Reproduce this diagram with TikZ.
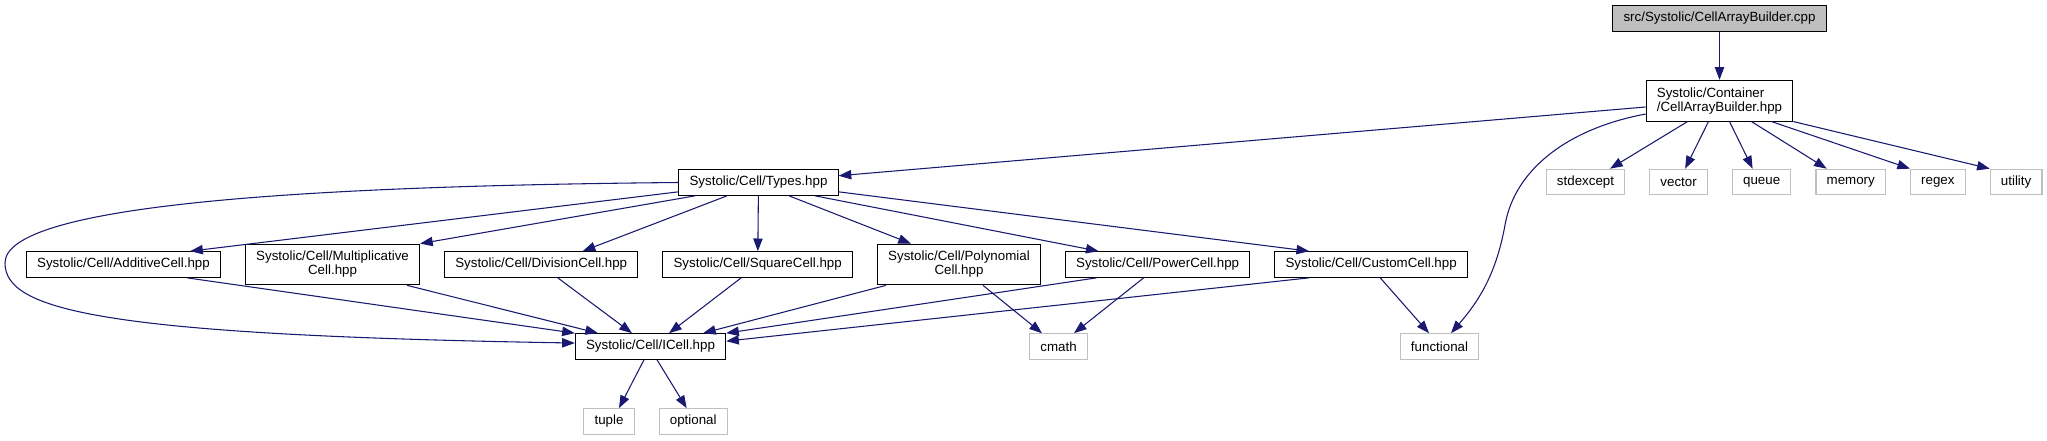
\documentclass[tikz,border=0pt]{standalone}
\usepackage{fontspec}
\setmainfont{Liberation Sans}
\usepackage{tikz}
\usetikzlibrary{arrows.meta,positioning}
\definecolor{edgeBlue}{HTML}{191970}
\definecolor{rootGray}{HTML}{BFBFBF}
\definecolor{sysGray}{HTML}{BFBFBF}

\begin{document}
\begin{tikzpicture}[
  x=0.75pt, y=-0.75pt,
  node distance=18pt,
  every node/.style={font=\fontsize{10}{10.5}\selectfont, align=center},
  file/.style={draw=black,fill=white,line width=0.8pt,inner xsep=8pt,inner ysep=0pt,minimum height=19.2pt},
  twoline/.style={file,minimum height=30.5pt},
  rootfile/.style={file,fill=rootGray},
  sysfile/.style={file,draw=sysGray},
  arrow/.style={-{Triangle[length=9.5pt,width=7pt]},line width=0.8pt,color=edgeBlue}
]
\useasboundingbox (0,0) rectangle (2047,440);

% Fila superior: fichero raiz y su cabecera
\node[rootfile] (cpp) at (1719.5,18.5) {src/Systolic/CellArrayBuilder.cpp};
\node[twoline,align=left,below=36pt of cpp] (builder) {Systolic/Container\\/CellArrayBuilder.hpp};

% Cabeceras de sistema de CellArrayBuilder
\node[sysfile] (stdexcept) at (1585.5,182) {stdexcept};
\node[sysfile,right=of stdexcept] (vector) {vector};
\node[sysfile,right=of vector] (queue) {queue};
\node[sysfile,right=of queue] (memory) {memory};
\node[sysfile,right=of memory] (regex) {regex};
\node[sysfile,right=of regex] (utility) {utility};

\node[file] (types) at (758.5,182.5) {Systolic/Cell/Types.hpp};

% Fila central: tipos de celda
\node[file] (additive) at (123.5,264.5) {Systolic/Cell/AdditiveCell.hpp};
\node[twoline,right=of additive] (multiplicative) {Systolic/Cell/Multiplicative\\Cell.hpp};
\node[file,right=of multiplicative] (division) {Systolic/Cell/DivisionCell.hpp};
\node[file,right=of division] (square) {Systolic/Cell/SquareCell.hpp};
\node[twoline,right=of square] (polynomial) {Systolic/Cell/Polynomial\\Cell.hpp};
\node[file,right=of polynomial] (power) {Systolic/Cell/PowerCell.hpp};
\node[file,right=of power] (custom) {Systolic/Cell/CustomCell.hpp};

% Fila inferior
\node[file] (icell) at (650.5,346.5) {Systolic/Cell/ICell.hpp};
\node[sysfile] (cmath) at (1058.5,346.5) {cmath};
\node[sysfile] (functional) at (1439.5,346.5) {functional};
\node[sysfile] (tuple) at (609,421.5) {tuple};
\node[sysfile,right=of tuple] (optional) {optional};

\coordinate (loop) at (5,263);

% Conexiones
\draw[arrow] (cpp) -- (builder);
\draw[arrow] (builder) -- (types);
\draw[arrow] ([yshift=-10pt]builder.west) .. controls (1570,128) and (1515,168) .. (1505,225)
  .. controls (1496,275) and (1478,302) .. ([xshift=8.6pt]functional.north);
\draw[arrow] ([xshift=-24pt]builder.south) -- ([xshift=18.4pt]stdexcept.north);
\draw[arrow] ([xshift=-8.3pt]builder.south) -- ([xshift=4.9pt]vector.north);
\draw[arrow] ([xshift=7.5pt]builder.south) -- ([xshift=-6.8pt]queue.north);
\draw[arrow] ([xshift=24pt]builder.south) -- ([xshift=-18pt]memory.north);
\draw[arrow] ([xshift=39pt]builder.south) -- (regex.north west);
\draw[arrow] (builder.south east) -- (utility.north west);

\draw[arrow] (types.west) .. controls (300,186) and (5,205) .. (loop)
  .. controls (5,310) and (100,335) .. ([yshift=2.6pt]icell.west);
\draw[arrow] ([yshift=-7pt]types.west) -- ([xshift=50pt]additive.north);
\draw[arrow] ([xshift=-47.6pt]types.south) -- (multiplicative.north east);
\draw[arrow] ([xshift=-23.6pt]types.south) -- ([xshift=31.1pt]division.north);
\draw[arrow] (types) -- (square);
\draw[arrow] ([xshift=22.9pt]types.south) -- ([xshift=-36pt]polynomial.north);
\draw[arrow] ([xshift=42.4pt]types.south) -- ([xshift=-44.3pt]power.north);
\draw[arrow] ([yshift=-7pt]types.east) -- ([xshift=-46.5pt]custom.north);

\draw[arrow] ([xshift=47.6pt]additive.south) -- (icell.north west);
\draw[arrow] ([xshift=55.9pt]multiplicative.south) -- ([xshift=-39.4pt]icell.north);
\draw[arrow] ([xshift=12.4pt]division.south) -- ([xshift=-13.9pt]icell.north);
\draw[arrow] ([xshift=-12.4pt]square.south) -- ([xshift=13.9pt]icell.north);
\draw[arrow] ([xshift=-54.8pt]polynomial.south) -- ([xshift=39.4pt]icell.north);
\draw[arrow] ([xshift=-45.8pt]power.south) -- (icell.north east);
\draw[arrow] ([xshift=-46.5pt]custom.south) -- ([yshift=4pt]icell.east);
\draw[arrow] ([xshift=18pt]polynomial.south) -- ([xshift=-12.4pt]cmath.north);
\draw[arrow] ([xshift=-10.5pt]power.south) -- ([xshift=11.6pt]cmath.north);
\draw[arrow] ([xshift=6.8pt]custom.south) -- ([xshift=-7.9pt]functional.north);
\draw[arrow] ([xshift=-4.9pt]icell.south) -- ([xshift=7.5pt]tuple.north);
\draw[arrow] ([xshift=4.9pt]icell.south) -- ([xshift=-4.9pt]optional.north);
\end{tikzpicture}
\end{document}
